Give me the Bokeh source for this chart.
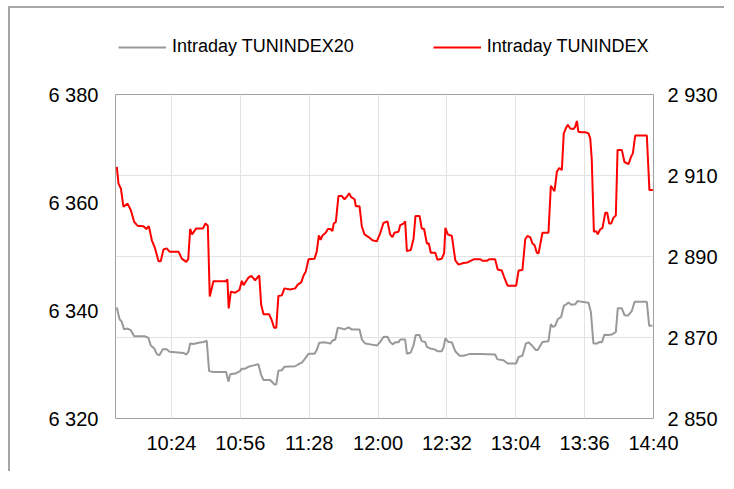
from bokeh.plotting import figure
from bokeh.layouts import column
from bokeh.models import Range1d, LinearAxis, FixedTicker, Legend, LegendItem, Grid
from bokeh.embed import file_html
from bokeh.resources import INLINE

# x positions are sample indices along the session; ticks every 32 samples
time_ticks = [26, 58, 90, 122, 154, 186, 218, 250]
time_labels = ["10:24", "10:56", "11:28", "12:00", "12:32", "13:04", "13:36", "14:40"]
left_ticks = [6320, 6340, 6360, 6380]
right_ticks = [2850, 2870, 2890, 2910, 2930]
series_names = ["Intraday TUNINDEX20", "Intraday TUNINDEX"]

# Intraday TUNINDEX (left axis)
tunindex_idx = [
    0.6, 1.4, 2.5, 3.7, 5.6, 7.1, 8.7, 10.2, 13.0, 14.3,
    15.5, 16.9, 18.4, 20.0, 21.0, 22.3, 23.8, 25.1, 29.3, 30.8,
    32.9, 33.8, 34.7, 35.6, 37.5, 40.6, 41.8, 42.9, 43.8, 45.5,
    51.4, 52.0, 52.6, 53.6, 55.6, 57.6, 58.7, 59.5, 61.8, 63.1,
    64.9, 66.8, 67.7, 68.8, 71.4, 72.6, 73.7, 74.7, 75.7, 77.3,
    78.5, 81.2, 83.5, 84.7, 86.3, 87.4, 88.4, 89.7, 92.5, 93.5,
    94.5, 95.3, 96.2, 97.7, 98.7, 99.9, 100.8, 101.4, 102.4, 103.6,
    105.2, 106.4, 107.5, 108.6, 109.5, 111.1, 111.7, 113.4, 114.5, 115.7,
    117.6, 119.4, 121.4, 123.0, 124.5, 126.4, 127.6, 128.7, 129.6, 131.5,
    132.3, 133.8, 134.6, 135.4, 137.2, 138.5, 139.4, 141.3, 142.3, 143.4,
    144.7, 145.6, 146.5, 148.6, 149.6, 151.6, 152.7, 153.3, 154.4, 156.3,
    157.9, 159.4, 161.7, 163.6, 164.5, 166.7, 169.5, 170.5, 172.5, 173.8,
    176.4, 177.6, 179.5, 180.6, 182.2, 186.2, 187.3, 189.1, 190.4, 191.4,
    192.7, 193.8, 194.7, 195.8, 196.6, 197.3, 198.4, 201.2, 202.3, 203.1,
    204.0, 205.1, 206.2, 207.4, 208.3, 209.2, 210.2, 211.3, 212.8, 213.6,
    214.4, 215.1, 216.4, 218.3, 219.8, 220.6, 221.3, 222.3, 223.4, 224.1,
    225.2, 226.3, 227.6, 228.5, 229.4, 230.3, 231.4, 232.5, 233.3, 235.3,
    236.5, 238.4, 239.6, 240.4, 241.5, 246.9, 248.1, 249.7,
]
tunindex_vals = [
    6366.6, 6363.5, 6362.6, 6359.2, 6359.8, 6358.6, 6356.4, 6355.7, 6355.6, 6355.1,
    6355.6, 6353.0, 6351.5, 6349.1, 6349.1, 6351.3, 6351.5, 6350.9, 6350.9, 6349.6,
    6349.0, 6349.5, 6355.1, 6354.1, 6355.2, 6355.2, 6356.1, 6355.7, 6342.6, 6345.4,
    6345.4, 6345.8, 6340.4, 6343.5, 6343.3, 6343.8, 6345.5, 6344.7, 6346.1, 6346.4,
    6345.6, 6346.5, 6341.0, 6339.3, 6339.3, 6338.2, 6336.8, 6336.8, 6342.7, 6342.8,
    6344.1, 6343.9, 6344.1, 6344.8, 6345.2, 6346.5, 6347.2, 6349.5, 6349.6, 6350.9,
    6353.9, 6353.1, 6353.9, 6354.4, 6355.1, 6355.1, 6354.7, 6356.1, 6356.4, 6361.2,
    6361.2, 6360.6, 6361.1, 6361.7, 6361.0, 6360.6, 6359.3, 6359.3, 6355.5, 6354.1,
    6353.6, 6353.0, 6352.8, 6354.3, 6356.2, 6356.5, 6354.1, 6353.6, 6354.4, 6354.6,
    6355.8, 6356.1, 6356.5, 6351.0, 6351.2, 6353.3, 6357.5, 6357.5, 6355.2, 6355.1,
    6352.4, 6352.4, 6350.7, 6350.7, 6349.4, 6349.6, 6350.6, 6355.3, 6354.1, 6353.8,
    6349.3, 6348.5, 6348.8, 6348.9, 6349.1, 6349.5, 6349.5, 6349.2, 6349.2, 6349.5,
    6349.5, 6347.6, 6347.4, 6346.2, 6344.6, 6344.6, 6347.4, 6347.5, 6353.2, 6353.8,
    6353.6, 6352.4, 6352.1, 6350.7, 6350.6, 6352.1, 6354.4, 6354.4, 6363.1, 6362.6,
    6362.1, 6365.7, 6366.4, 6366.0, 6372.8, 6373.7, 6374.4, 6373.7, 6373.6, 6374.0,
    6375.1, 6373.1, 6373.0, 6373.0, 6372.8, 6371.9, 6368.1, 6354.6, 6354.7, 6354.1,
    6355.0, 6355.3, 6358.1, 6358.1, 6356.1, 6356.1, 6357.2, 6357.6, 6369.7, 6369.7,
    6367.5, 6367.1, 6368.5, 6369.1, 6372.4, 6372.4, 6362.3, 6362.3,
]

# Intraday TUNINDEX20 (right axis)
tunindex20_idx = [
    0.6, 1.9, 2.9, 4.0, 5.6, 7.1, 8.7, 13.8, 15.3, 16.4,
    18.0, 19.2, 20.4, 22.0, 23.8, 25.1, 31.6, 32.9, 33.9, 34.7,
    36.2, 38.6, 40.9, 42.4, 43.5, 45.5, 51.4, 52.5, 53.3, 55.6,
    57.9, 58.7, 60.3, 61.8, 63.3, 66.4, 67.7, 68.8, 71.9, 73.9,
    74.7, 75.7, 77.3, 78.5, 83.5, 85.0, 86.6, 88.1, 89.7, 92.5,
    93.5, 94.7, 97.4, 99.8, 100.8, 102.1, 103.3, 105.2, 106.4, 108.3,
    109.8, 113.4, 114.5, 116.1, 118.4, 121.4, 123.0, 124.5, 126.4, 127.6,
    128.8, 130.0, 131.5, 132.3, 134.6, 135.4, 137.2, 138.5, 139.5, 141.3,
    142.3, 143.9, 144.7, 146.2, 148.6, 149.6, 151.6, 152.4, 153.3, 154.7,
    156.3, 157.9, 159.9, 161.7, 164.5, 169.5, 176.4, 177.5, 180.3, 182.2,
    186.2, 187.3, 189.1, 190.7, 191.9, 193.4, 195.3, 196.2, 198.4, 201.2,
    202.3, 203.2, 204.3, 205.5, 207.1, 208.3, 209.2, 210.5, 211.8, 213.6,
    214.7, 216.7, 219.8, 220.9, 222.1, 223.7, 224.9, 226.0, 227.2, 229.4,
    230.9, 232.5, 233.4, 235.3, 236.5, 238.1, 239.9, 241.2, 246.9, 248.0,
    249.5,
]
tunindex20_vals = [
    2877.4, 2874.5, 2873.9, 2872.0, 2872.2, 2871.8, 2870.3, 2870.3, 2869.9, 2868.0,
    2867.3, 2865.9, 2865.6, 2867.1, 2867.1, 2866.5, 2866.2, 2865.8, 2866.5, 2868.5,
    2868.4, 2868.7, 2868.9, 2869.2, 2861.7, 2861.5, 2861.5, 2859.1, 2860.9, 2861.1,
    2861.7, 2862.3, 2862.3, 2862.8, 2863.0, 2863.4, 2860.7, 2859.5, 2859.5, 2858.4,
    2858.4, 2861.8, 2861.9, 2862.8, 2862.9, 2863.4, 2863.8, 2864.8, 2866.0, 2866.0,
    2866.9, 2868.7, 2868.8, 2868.5, 2869.2, 2869.5, 2872.4, 2872.2, 2872.0, 2872.5,
    2872.0, 2872.0, 2869.5, 2868.5, 2868.3, 2868.0, 2868.9, 2870.1, 2870.2, 2868.9,
    2868.3, 2868.8, 2868.8, 2869.5, 2869.5, 2866.0, 2866.3, 2868.1, 2870.6, 2870.6,
    2869.1, 2868.9, 2867.7, 2867.3, 2867.0, 2866.6, 2866.6, 2867.5, 2869.8, 2868.9,
    2868.8, 2866.6, 2865.5, 2865.5, 2865.9, 2865.9, 2865.8, 2864.6, 2864.4, 2863.6,
    2863.6, 2865.2, 2865.5, 2868.5, 2868.8, 2868.1, 2866.9, 2866.9, 2868.9, 2869.1,
    2873.3, 2872.6, 2872.9, 2874.5, 2875.1, 2877.8, 2878.1, 2878.6, 2878.1, 2878.2,
    2879.0, 2878.8, 2878.6, 2876.3, 2868.5, 2868.5, 2868.9, 2868.8, 2870.7, 2870.6,
    2870.8, 2871.4, 2877.2, 2877.2, 2875.5, 2875.4, 2876.5, 2878.8, 2878.8, 2872.9,
    2872.9,
]

FONT = "Liberation Sans"
TICK_SIZE = "20px"
GRAY = "#999999"
RED = "#ff0000"
BORDER = "2px solid #a6a6a6"


def fmt(v):
    return f"{v:,}".replace(",", " ")


# ---- legend strip (top); its series are drawn outside its view, only the legend shows ----
lp = figure(width=716, height=76, output_backend="svg", toolbar_location=None,
            x_axis_type=None, y_axis_type=None,
            x_range=Range1d(0, 250), y_range=Range1d(0, 1),
            min_border_left=0, min_border_right=0, min_border_top=0,
            min_border_bottom=0)
lp.styles = {"border-left": BORDER, "border-top": BORDER}
lp.outline_line_color = None
lp.grid.visible = False
lp.border_fill_color = "white"
lg = lp.line(tunindex20_idx, tunindex20_vals, line_color=GRAY, line_width=2)
lr = lp.line(tunindex_idx, tunindex_vals, line_color=RED, line_width=2)
legend = Legend(items=[LegendItem(label=series_names[0], renderers=[lg]),
                       LegendItem(label=series_names[1], renderers=[lr])],
                orientation="horizontal", location=(3, 27),
                glyph_width=48, glyph_height=20, label_height=20,
                label_standoff=6, spacing=79, padding=0, margin=0,
                border_line_color=None, background_fill_alpha=0,
                label_text_font=FONT, label_text_font_size="18px",
                label_text_color="#000000")
lp.add_layout(legend)

# ---- main chart ----
p = figure(width=716, height=389, output_backend="svg", toolbar_location=None,
           x_range=Range1d(0, 250), y_range=Range1d(left_ticks[0], left_ticks[-1]),
           min_border_left=105, min_border_right=73, min_border_top=12,
           min_border_bottom=53)
p.extra_y_ranges = {"right": Range1d(right_ticks[0], right_ticks[-1])}
p.styles = {"border-left": BORDER}
p.outline_line_color = "#a0a0a0"
p.outline_line_width = 1
p.background_fill_color = "white"
p.border_fill_color = "white"


def style_axis(ax, standoff):
    ax.axis_line_color = None
    ax.major_tick_line_color = None
    ax.minor_tick_line_color = None
    ax.major_tick_out = 0
    ax.major_tick_in = 0
    ax.major_label_standoff = standoff
    ax.major_label_text_font = FONT
    ax.major_label_text_font_size = TICK_SIZE
    ax.major_label_text_color = "#000000"


xax = p.xaxis[0]
xax.ticker = FixedTicker(ticks=time_ticks)
xax.major_label_overrides = {t: l for t, l in zip(time_ticks, time_labels)}
style_axis(xax, 13)

yax = p.yaxis[0]
yax.ticker = FixedTicker(ticks=left_ticks)
yax.major_label_overrides = {t: fmt(t) for t in left_ticks}
style_axis(yax, 17)

rax = LinearAxis(y_range_name="right", ticker=FixedTicker(ticks=right_ticks))
rax.major_label_overrides = {t: fmt(t) for t in right_ticks}
style_axis(rax, 14)
p.add_layout(rax, "right")

p.xgrid.ticker = FixedTicker(ticks=time_ticks)
p.xgrid.grid_line_color = "#e3e3e3"
p.ygrid.visible = False
p.add_layout(Grid(dimension=1, ticker=FixedTicker(ticks=right_ticks),
                  y_range_name="right", grid_line_color="#e3e3e3"))

p.line(tunindex20_idx, tunindex20_vals, y_range_name="right",
       line_color=GRAY, line_width=2)
p.line(tunindex_idx, tunindex_vals, line_color=RED, line_width=2)

page = column(lp, p, spacing=0)
page.styles = {"margin-left": "8px", "margin-top": "6px"}
open("out.html", "w").write(file_html(page, INLINE))
